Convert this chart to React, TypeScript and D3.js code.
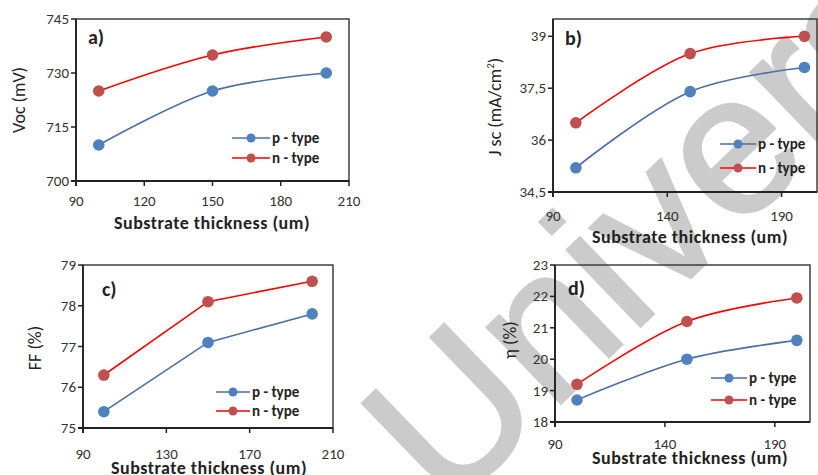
import React from 'react'
import * as d3 from 'd3'

// substrate thickness (um)
const thickness = [100, 150, 200]

const vocP = [710, 725, 730]
const vocN = [725, 735, 740]
const jscP = [35.2, 37.4, 38.1]
const jscN = [36.5, 38.5, 39.0]
const ffP = [75.4, 77.1, 77.8]
const ffN = [76.3, 78.1, 78.6]
const effP = [18.7, 20.0, 20.6]
const effN = [19.2, 21.2, 21.95]

const vocTicks = [700, 715, 730, 745]
const jscTicks = [34.5, 36, 37.5, 39]
const ffTicks = [75, 76, 77, 78, 79]
const effTicks = [18, 19, 20, 21, 22, 23]
const xTicksA = [90, 120, 150, 180, 210]
const xTicksB = [90, 140, 190]
const xTicksC = [90, 130, 170, 210]
const xTicksD = [90, 140, 190]

const seriesNames = ['p - type', 'n - type']

const FONT = 'Carlito, Lato, sans-serif'
const lineCol = ['#4a6fa5', '#ff0000']
const dotCol = ['#4f81bd', '#c0504d']

type PanelProps = {
  box: { l: number; t: number; r: number; b: number }
  xDomain: [number, number]
  yDomain: [number, number]
  xTicks: number[]
  yTicks: number[]
  p: number[]
  n: number[]
  smooth: boolean
  tag: string
  tagPos: [number, number]
  yLabel: React.ReactNode
  yLabelPos: [number, number]
  xLabelPos: [number, number]
  xTickY: number
  legend: { x1: number; x2: number; y1: number; y2: number }
  fmt?: (v: number) => string
}

function Panel(props: PanelProps) {
  const { box, p, n, legend } = props
  const x = d3.scaleLinear().domain(props.xDomain).range([box.l, box.r])
  const y = d3.scaleLinear().domain(props.yDomain).range([box.b, box.t])
  const line = d3.line<number>()
    .x((d, i) => x(thickness[i]))
    .y((d) => y(d))
    .curve(props.smooth ? d3.curveCatmullRom.alpha(0.5) : d3.curveLinear)
  const fmt = props.fmt || ((v: number) => String(v))
  const series = [p, n]
  const rows = [legend.y1, legend.y2]
  const mid = (legend.x1 + legend.x2) / 2

  return (
    <g>
      <rect x={box.l} y={box.t} width={box.r - box.l} height={box.b - box.t}
        fill="none" stroke="#333" strokeWidth={1.4} />
      <line x1={box.l} x2={box.l} y1={box.t} y2={box.b + 5} stroke="#222" strokeWidth={1.8} />
      <line x1={box.l - 5} x2={box.r} y1={box.b} y2={box.b} stroke="#222" strokeWidth={1.8} />
      {props.yTicks.map((t) => (
        <g key={'y' + t}>
          <line x1={box.l - 5} x2={box.l} y1={y(t)} y2={y(t)} stroke="#222" strokeWidth={1.5} />
          <text x={box.l - 7} y={y(t) + 5} textAnchor="end" fontSize={15} fill="#333">{fmt(t)}</text>
        </g>
      ))}
      {props.xTicks.map((t) => (
        <g key={'x' + t}>
          <line x1={x(t)} x2={x(t)} y1={box.b} y2={box.b + 5} stroke="#222" strokeWidth={1.5} />
          <text x={x(t)} y={props.xTickY} textAnchor="middle" fontSize={15} fill="#333">{t}</text>
        </g>
      ))}
      {series.map((s, k) => (
        <g key={'s' + k}>
          <path d={line(s) || ''} fill="none" stroke={lineCol[k]} strokeWidth={1.6} />
          {s.map((v, i) => (
            <circle key={i} cx={x(thickness[i])} cy={y(v)} r={5.8} fill={dotCol[k]} />
          ))}
        </g>
      ))}
      {rows.map((ry, k) => (
        <g key={'l' + k}>
          <line x1={legend.x1} x2={legend.x2} y1={ry} y2={ry} stroke={lineCol[k]} strokeWidth={1.6} />
          <circle cx={mid} cy={ry} r={4.5} fill={dotCol[k]} />
          <text x={legend.x2 + 2} y={ry + 5} fontSize={15} fontWeight={600} fill="#222">{seriesNames[k]}</text>
        </g>
      ))}
      <text x={props.tagPos[0]} y={props.tagPos[1]} fontSize={20} fontWeight={700} fill="#222">{props.tag}</text>
      <text transform={`translate(${props.yLabelPos[0]},${props.yLabelPos[1]}) rotate(-90)`}
        textAnchor="middle" fontSize={18} fill="#222">{props.yLabel}</text>
      <text x={props.xLabelPos[0]} y={props.xLabelPos[1]} textAnchor="middle" fontSize={18}
        fontWeight={700} letterSpacing={0.5} fill="#222">Substrate thickness (um)</text>
    </g>
  )
}

const commaFmt = (v: number) => String(v).replace('.', ',')

export default function App() {
  return (
    <svg width={818} height={475} style={{ position: 'absolute', left: 0, top: 0 }} fontFamily={FONT}>
      <rect width={818} height={475} fill="#fff" />
      {/* watermark */}
      <text transform="translate(447,513) rotate(-44)" fontFamily="Liberation Sans, Arial, sans-serif"
        fontSize={200} fill="#cbcbcb" stroke="#cbcbcb" strokeWidth={3}>University</text>
      <Panel box={{ l: 76, t: 19, r: 349, b: 181 }} xDomain={[90, 210]} yDomain={[700, 745]}
        xTicks={xTicksA} yTicks={vocTicks} p={vocP} n={vocN} smooth={true}
        tag="a)" tagPos={[88, 44]} yLabel="Voc (mV)" yLabelPos={[25, 100]}
        xLabelPos={[212, 229]} xTickY={206} legend={{ x1: 232, x2: 270, y1: 138, y2: 158 }} />
      <Panel box={{ l: 553, t: 19, r: 817, b: 192 }} xDomain={[90, 205.5]} yDomain={[34.5, 39.5]}
        xTicks={xTicksB} yTicks={jscTicks} p={jscP} n={jscN} smooth={true} fmt={commaFmt}
        tag="b)" tagPos={[565, 45]}
        yLabel={<>J sc (mA/cm<tspan dy={-7} fontSize={11}>2</tspan><tspan dy={7}>)</tspan></>}
        yLabelPos={[501, 107]}
        xLabelPos={[690, 243]} xTickY={221} legend={{ x1: 720, x2: 756, y1: 144, y2: 168 }} />
      <Panel box={{ l: 83, t: 265, r: 333, b: 428 }} xDomain={[90, 210]} yDomain={[75, 79]}
        xTicks={xTicksC} yTicks={ffTicks} p={ffP} n={ffN} smooth={false}
        tag="c)" tagPos={[102, 296]} yLabel="FF (%)" yLabelPos={[41, 348]}
        xLabelPos={[209, 474]} xTickY={459} legend={{ x1: 216, x2: 250, y1: 392, y2: 411 }} />
      <Panel box={{ l: 555, t: 265, r: 810, b: 422 }} xDomain={[90, 206]} yDomain={[18, 23]}
        xTicks={xTicksD} yTicks={effTicks} p={effP} n={effN} smooth={true}
        tag="d)" tagPos={[568, 295]} yLabel="η (%)" yLabelPos={[516, 340]}
        xLabelPos={[690, 464]} xTickY={449} legend={{ x1: 711, x2: 747, y1: 378, y2: 400 }} />
    </svg>
  )
}
